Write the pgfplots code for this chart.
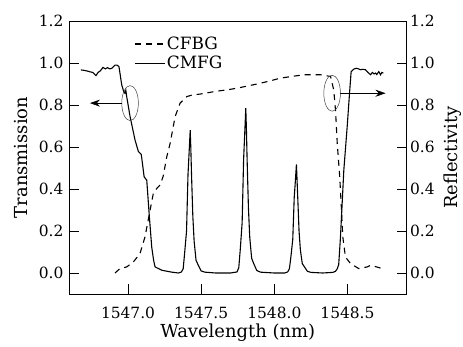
\documentclass[border=0pt]{standalone}
\usepackage{pgfplots}
\pgfplotsset{compat=1.18}
\usepackage{fontspec}
\setmainfont{DejaVu Serif}
\usetikzlibrary{arrows.meta}
\begin{document}
\begin{tikzpicture}
\pgfplotsset{
  common/.style={
    /pgf/number format/fixed, /pgf/number format/zerofill, /pgf/number format/precision=1,
    /pgf/number format/1000 sep={}, /pgf/number format/assume math mode=true,
    scale only axis, width=336.5bp, height=273bp,
    xmin=1546.6, xmax=1548.9, ymin=-0.1, ymax=1.2,
    ytick={0,0.2,0.4,0.6,0.8,1.0,1.2},
    tick align=inside, major tick length=9.5bp,
    every tick/.style={line width=0.8bp, black},
    axis line style={line width=0.8bp},
    tick label style={font=\fontsize{15.5}{18}\selectfont},
    label style={font=\fontsize{18}{21}\selectfont},
  }
}
\begin{axis}[common, name=ax,
  xtick={1547,1547.5,1548,1548.5},
  xtick pos=bottom, ytick pos=left,
  yticklabel style={xshift=-2.5bp},
  xticklabel style={anchor=north, yshift=-10bp},
  xlabel={Wavelength (nm)},
  xlabel style={at={(axis description cs:0.5,-0.097)}, anchor=north},
  ylabel={Transmission},
  ylabel style={at={(axis description cs:-0.114,0.5)}, anchor=south},
  legend style={draw=none, fill=none, at={(axis description cs:0.183,0.955)}, anchor=north west,
    font=\fontsize{17}{19}\selectfont, row sep=2bp, cells={anchor=west},
    nodes={inner sep=1.5bp}},
  legend image code/.code={\draw[#1] (0bp,0bp) -- (30bp,0bp);},
]
\addplot[line width=1.1bp, dash pattern=on 6bp off 5bp] coordinates {
(1546.911,0.0) (1546.945,0.021) (1546.991,0.029) (1547.036,0.052) (1547.082,0.093)
(1547.116,0.172) (1547.151,0.30) (1547.173,0.379) (1547.197,0.403) (1547.219,0.419)
(1547.240,0.46) (1547.265,0.554) (1547.288,0.618) (1547.322,0.745) (1547.356,0.809)
(1547.402,0.84) (1547.440,0.848) (1547.493,0.852) (1547.608,0.866) (1547.676,0.872)
(1547.745,0.88) (1547.882,0.90) (1547.973,0.915) (1548.041,0.928) (1548.201,0.944)
(1548.315,0.944) (1548.384,0.936) (1548.406,0.872) (1548.418,0.777) (1548.430,0.618)
(1548.447,0.458) (1548.459,0.30) (1548.468,0.172) (1548.486,0.076) (1548.521,0.045)
(1548.577,0.021) (1548.635,0.029) (1548.658,0.037) (1548.738,0.021)
};
\addlegendentry{CFBG}
\addplot[line width=1.1bp] coordinates {
(1546.678,0.967) (1546.70,0.965) (1546.72,0.962) (1546.74,0.958) (1546.76,0.955)
(1546.781,0.940) (1546.795,0.955) (1546.81,0.962) (1546.829,0.979) (1546.845,0.972)
(1546.86,0.978) (1546.875,0.972) (1546.89,0.975) (1546.911,0.990) (1546.925,0.99)
(1546.938,0.983) (1546.957,0.896) (1546.970,0.865) (1546.979,0.856) (1546.985,0.87)
(1546.991,0.84) (1547.014,0.745) (1547.048,0.633) (1547.071,0.578) (1547.090,0.565)
(1547.094,0.547) (1547.110,0.458) (1547.128,0.442) (1547.146,0.267) (1547.162,0.124)
(1547.175,0.06) (1547.185,0.029) (1547.231,0.013) (1547.30,0.004) (1547.345,0.0)
(1547.365,0.005) (1547.377,0.02) (1547.387,0.095) (1547.400,0.20) (1547.410,0.47)
(1547.418,0.58) (1547.425,0.68) (1547.429,0.60) (1547.434,0.47) (1547.443,0.27)
(1547.452,0.15) (1547.465,0.06) (1547.479,0.039) (1547.50,0.01) (1547.525,0.004)
(1547.60,0.0) (1547.70,0.0)
(1547.745,0.005) (1547.757,0.025) (1547.767,0.11) (1547.780,0.24) (1547.790,0.54)
(1547.798,0.67) (1547.805,0.785) (1547.809,0.69) (1547.814,0.54) (1547.823,0.31)
(1547.832,0.17) (1547.845,0.07) (1547.859,0.045) (1547.88,0.012) (1547.905,0.004)
(1548.00,0.0) (1548.07,0.0)
(1548.091,0.005) (1548.103,0.02) (1548.113,0.075) (1548.126,0.16) (1548.136,0.36)
(1548.144,0.44) (1548.151,0.517) (1548.155,0.45) (1548.160,0.36) (1548.169,0.2)
(1548.178,0.11) (1548.191,0.045) (1548.205,0.03) (1548.226,0.008) (1548.25,0.003)
(1548.33,0.0) (1548.40,0.003) (1548.418,0.008) (1548.430,0.02) (1548.440,0.04)
(1548.452,0.17) (1548.475,0.49) (1548.498,0.697) (1548.514,0.856) (1548.525,0.959)
(1548.543,0.971) (1548.56,0.975) (1548.575,0.972) (1548.589,0.968) (1548.605,0.97)
(1548.623,0.968) (1548.64,0.955) (1548.658,0.944) (1548.67,0.955) (1548.682,0.948)
(1548.692,0.952) (1548.70,0.945) (1548.714,0.959) (1548.726,0.944) (1548.735,0.955)
(1548.745,0.952)
};
\addlegendentry{CMFG}
\draw[line width=0.5bp, black!75] (axis cs:1547.014,0.809) ellipse [x radius=8.3bp, y radius=17.5bp];
\draw[line width=0.6bp, -{Stealth[length=10bp,width=7bp]}] (axis cs:1546.957,0.809) -- (axis cs:1546.74,0.809);
\draw[line width=0.5bp, black!75] (axis cs:1548.395,0.856) ellipse [x radius=8.3bp, y radius=18bp];
\draw[line width=0.6bp, -{Stealth[length=10bp,width=7bp]}] (axis cs:1548.452,0.856) -- (axis cs:1548.76,0.856);
\end{axis}
\begin{axis}[common,
  axis x line=none, axis y line*=right,
  yticklabel style={xshift=0.5bp},
  ylabel={Reflectivity},
  ylabel style={at={(axis description cs:1.101,0.5)}, anchor=north, rotate=0},
]
\addplot[draw=none] coordinates {(1547,0)};
\end{axis}
\pgfresetboundingbox
\path[use as bounding box] ([xshift=-69.5bp,yshift=-53bp]ax.south west) rectangle ([xshift=57bp,yshift=21bp]ax.north east);
\end{tikzpicture}
\end{document}
